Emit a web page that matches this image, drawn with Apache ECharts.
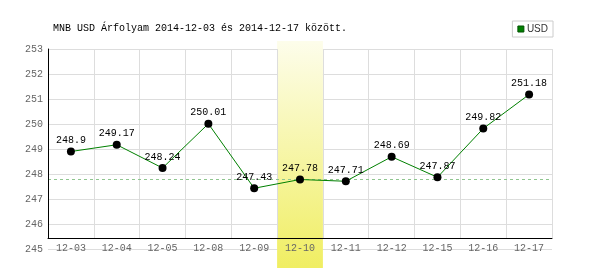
<!DOCTYPE html>
<html>
<head>
<meta charset="utf-8">
<script src="https://cdn.jsdelivr.net/npm/echarts@6/dist/echarts.min.js"></script>
<style>html,body{margin:0;padding:0;background:#fff}#c{width:600px;height:270px}</style>
</head>
<body>
<div id="c"></div>
<script>
const categories = ['12-03','12-04','12-05','12-08','12-09','12-10','12-11','12-12','12-15','12-16','12-17'];
const usdValues = [248.9, 249.17, 248.24, 250.01, 247.43, 247.78, 247.71, 248.69, 247.87, 249.82, 251.18];
const highlightCategory = '12-10';
const referenceValue = 247.78;
const yMin = 245, yMax = 253, yStep = 1;
const titleText = 'MNB USD Árfolyam 2014-12-03 és 2014-12-17 között.';
const seriesName = 'USD';

const mono = "'Liberation Mono','DejaVu Sans Mono',monospace";
const bandData = categories.map(c => c === highlightCategory ? 1 : '-');

const chart = echarts.init(document.getElementById('c'), null, {renderer: 'canvas'});
chart.setOption({
  animation: false,
  backgroundColor: '#fff',
  title: {
    text: titleText, left: 48, top: 18,
    textStyle: {fontFamily: mono, fontSize: 10, fontWeight: 'normal', color: '#000'}
  },
  legend: {
    data: [{name: seriesName, icon: 'rect', itemStyle: {color: '#008000', borderColor: '#005000', borderWidth: 1}}],
    right: 47, top: 21,
    padding: [3, 5, 3, 5],
    borderColor: '#ccc', borderWidth: 1, backgroundColor: '#fff',
    itemWidth: 6, itemHeight: 6, itemGap: 2,
    textStyle: {fontFamily: "'Liberation Sans Narrow','Liberation Sans',sans-serif", fontSize: 10, color: '#333', padding: [0,0,0,-2]}
  },
  grid: [
    {left: 48, right: 48, top: 49, bottom: 21},
    {left: 48, right: 48, top: 49, bottom: 32},
    {left: 48, right: 48, top: 41, bottom: 2}
  ],
  xAxis: [
    {gridIndex: 0, type: 'category', data: categories, boundaryGap: true, show: false},
    {gridIndex: 1, type: 'category', data: categories, boundaryGap: true, z: 5,
      axisLine: {show: true, lineStyle: {color: '#000', width: 1}},
      axisTick: {show: false},
      axisLabel: {interval: 0, margin: 5, fontFamily: mono, fontSize: 10, color: '#666'},
      splitLine: {show: true, interval: 0, lineStyle: {color: '#ddd', width: 1}}
    },
    {gridIndex: 2, type: 'category', data: categories, boundaryGap: true, show: false}
  ],
  yAxis: [
    {gridIndex: 0, type: 'value', min: yMin, max: yMax, interval: yStep, z: 0,
      axisLine: {show: false}, axisTick: {show: false},
      axisLabel: {margin: 5, fontFamily: mono, fontSize: 10, color: '#666'},
      splitLine: {show: true, lineStyle: {color: '#ddd', width: 1}}
    },
    {gridIndex: 1, type: 'value', min: 0, max: 1, z: 5,
      axisLine: {show: true, lineStyle: {color: '#000', width: 1}},
      axisTick: {show: false}, axisLabel: {show: false}, splitLine: {show: false}
    },
    {gridIndex: 2, type: 'value', min: 0, max: 1, show: false}
  ],
  series: [
    {
      type: 'bar', xAxisIndex: 2, yAxisIndex: 2, data: bandData,
      barWidth: '100%', silent: true, z: 1,
      itemStyle: {color: new echarts.graphic.LinearGradient(0, 0, 0, 1, [
        {offset: 0, color: '#fdfdeb'}, {offset: 1, color: '#f0ee62'}
      ])}
    },
    {
      name: seriesName, type: 'line', xAxisIndex: 0, yAxisIndex: 0, data: usdValues, z: 10,
      lineStyle: {color: '#008000', width: 1},
      itemStyle: {color: '#000'},
      symbol: 'circle', symbolSize: 8,
      label: {show: true, position: 'top', distance: 2, fontFamily: mono, fontSize: 10, color: '#000'},
      markLine: {
        silent: true, symbol: 'none', label: {show: false},
        lineStyle: {color: '#8fc58f', type: [3, 3], width: 1},
        data: [{yAxis: referenceValue}]
      }
    }
  ]
});
</script>
</body>
</html>
